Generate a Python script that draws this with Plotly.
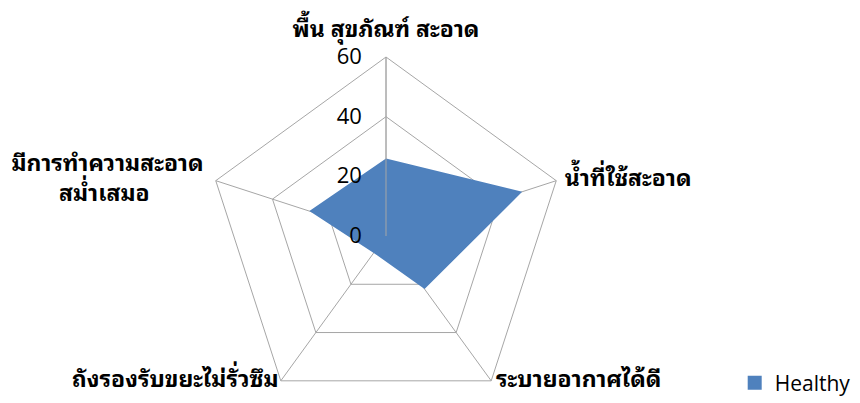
import plotly.graph_objects as go

categories = [
    "พื้น สุขภัณฑ์ สะอาด",
    "น้ำที่ใช้สะอาด",
    "ระบายอากาศได้ดี",
    "ถังรองรับขยะไม่รั่วซึม",
    "มีการทำความสะอาด<br>สม่ำเสมอ" + "\u00a0" * 9,
]
healthy = [26, 48, 22, 7, 27]
radial_ticks = [0, 20, 40, 60]

blue = "#4F81BD"
grid = "#A6A6A6"
thai_font = "Noto Sans Thai Looped, Noto Serif Thai, Loma, Garuda, Noto Sans, sans-serif"

fig = go.Figure()
fig.add_trace(go.Scatterpolar(
    r=healthy + healthy[:1],
    theta=categories + categories[:1],
    mode="none",
    fill="toself",
    fillcolor=blue,
    name="Healthy",
    showlegend=False,
))
# category labels sit at the outer ring, beside each corner
fig.add_trace(go.Scatterpolar(
    r=[60] * len(categories),
    theta=categories,
    mode="markers+text",
    text=categories,
    textposition=["top center", "middle right", "middle right",
                  "middle left", "middle left"],
    textfont=dict(size=23, color="black", family=thai_font, weight="bold"),
    marker=dict(size=[21, 12, 6, 2, 18], opacity=0),
    cliponaxis=False,
    hoverinfo="skip",
    showlegend=False,
))
# legend entry drawn as a small square like the original
fig.add_trace(go.Scatterpolar(
    r=[None], theta=[None], mode="markers",
    marker=dict(symbol="square", size=14, color=blue),
    name="Healthy",
))

# page body has an 8px margin, so the figure sits 8px right/down
W, H = 860, 410
cx, cy, R = 378, 228, 179
fig.update_layout(
    width=W, height=H,
    margin=dict(l=0, r=0, t=0, b=0),
    paper_bgcolor="white",
    plot_bgcolor="white",
    font=dict(family="Open Sans, sans-serif", color="black"),
    showlegend=True,
    legend=dict(x=0.845, y=(H - 375) / H, xanchor="left", yanchor="middle",
                font=dict(size=21, family="Open Sans, sans-serif")),
    polar=dict(
        domain=dict(x=[(cx - R) / W, (cx + R) / W],
                    y=[(H - cy - R) / H, (H - cy + R) / H]),
        bgcolor="white",
        gridshape="linear",
        angularaxis=dict(
            rotation=90, direction="clockwise",
            showline=True, linecolor=grid, linewidth=1,
            gridcolor=grid, gridwidth=1,
            ticks="", showticklabels=False,
        ),
        radialaxis=dict(
            range=[0, 60], tickvals=radial_ticks, angle=90, tickangle=90,
            side="counterclockwise",
            showline=True, linecolor=grid,
            gridcolor=grid, gridwidth=1,
            ticks="outside", ticklen=16, tickcolor="rgba(0,0,0,0)",
            tickfont=dict(size=22, color="black", family="Open Sans, sans-serif"),
        ),
    ),
)

fig.write_html("out.html")
